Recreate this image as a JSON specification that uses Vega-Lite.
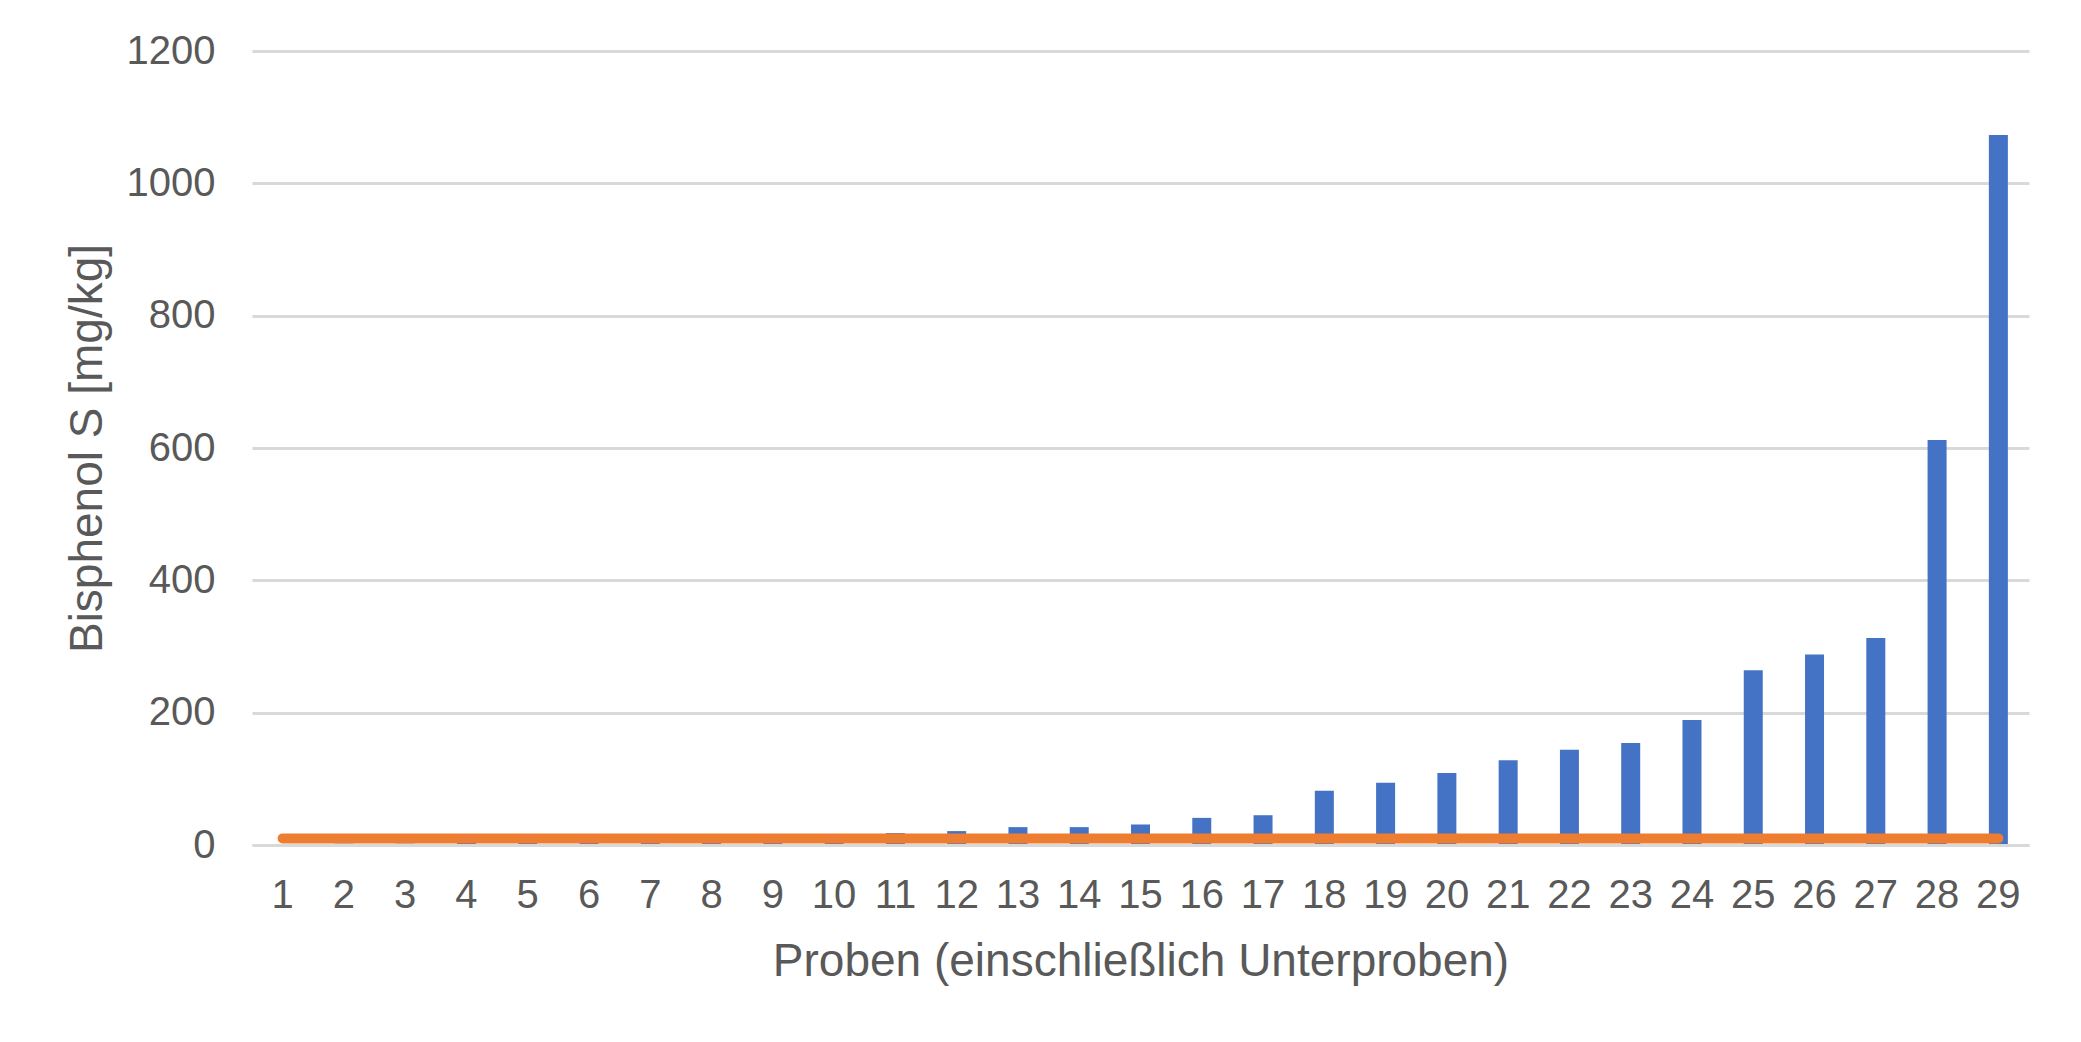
{
  "$schema": "https://vega.github.io/schema/vega-lite/v6.json",
  "autosize": {"type": "none"},
  "padding": {"left": 252, "top": 51, "right": 52, "bottom": 197},
  "width": 1777,
  "height": 794,
  "background": "white",
  "config": {
    "font": "Liberation Sans",
    "view": {"stroke": null},
    "axis": {
      "labelFont": "Liberation Sans",
      "titleFont": "Liberation Sans",
      "labelColor": "#595959",
      "titleColor": "#595959",
      "labelFontSize": 40,
      "titleFontSize": 46,
      "titleFontWeight": "normal",
      "ticks": false,
      "tickSize": 0,
      "gridColor": "#d9d9d9",
      "gridWidth": 3,
      "domainColor": "#d9d9d9",
      "domainWidth": 3
    }
  },
  "data": {
    "values": [
      {"probe": 1, "bps": 1, "grenze": 10},
      {"probe": 2, "bps": 2, "grenze": 10},
      {"probe": 3, "bps": 2, "grenze": 10},
      {"probe": 4, "bps": 3, "grenze": 10},
      {"probe": 5, "bps": 4, "grenze": 10},
      {"probe": 6, "bps": 5, "grenze": 10},
      {"probe": 7, "bps": 6, "grenze": 10},
      {"probe": 8, "bps": 8, "grenze": 10},
      {"probe": 9, "bps": 10, "grenze": 10},
      {"probe": 10, "bps": 13, "grenze": 10},
      {"probe": 11, "bps": 18, "grenze": 10},
      {"probe": 12, "bps": 21, "grenze": 10},
      {"probe": 13, "bps": 27, "grenze": 10},
      {"probe": 14, "bps": 27, "grenze": 10},
      {"probe": 15, "bps": 31, "grenze": 10},
      {"probe": 16, "bps": 41, "grenze": 10},
      {"probe": 17, "bps": 45, "grenze": 10},
      {"probe": 18, "bps": 82, "grenze": 10},
      {"probe": 19, "bps": 94, "grenze": 10},
      {"probe": 20, "bps": 109, "grenze": 10},
      {"probe": 21, "bps": 128, "grenze": 10},
      {"probe": 22, "bps": 144, "grenze": 10},
      {"probe": 23, "bps": 154, "grenze": 10},
      {"probe": 24, "bps": 189, "grenze": 10},
      {"probe": 25, "bps": 264, "grenze": 10},
      {"probe": 26, "bps": 288, "grenze": 10},
      {"probe": 27, "bps": 313, "grenze": 10},
      {"probe": 28, "bps": 612, "grenze": 10},
      {"probe": 29, "bps": 1073, "grenze": 10}
    ]
  },
  "encoding": {
    "x": {
      "field": "probe",
      "type": "ordinal",
      "title": "Proben (einschließlich Unterproben)",
      "scale": {"paddingInner": 0.69, "paddingOuter": 0.345},
      "axis": {"labelAngle": 0, "labelPadding": 30, "titlePadding": 24, "grid": false, "zindex": 1}
    }
  },
  "layer": [
    {
      "mark": {"type": "bar", "color": "#4472C4"},
      "encoding": {
        "y": {
          "field": "bps",
          "type": "quantitative",
          "title": "Bisphenol S [mg/kg]",
          "scale": {"domain": [0, 1200]},
          "axis": {"values": [0, 200, 400, 600, 800, 1000, 1200], "format": "d", "labelPadding": 37, "titlePadding": 15, "domain": false, "grid": true}
        }
      }
    },
    {
      "mark": {"type": "line", "color": "#ED7D31", "strokeWidth": 10, "strokeCap": "round"},
      "encoding": {
        "y": {"field": "grenze", "type": "quantitative"}
      }
    }
  ]
}
